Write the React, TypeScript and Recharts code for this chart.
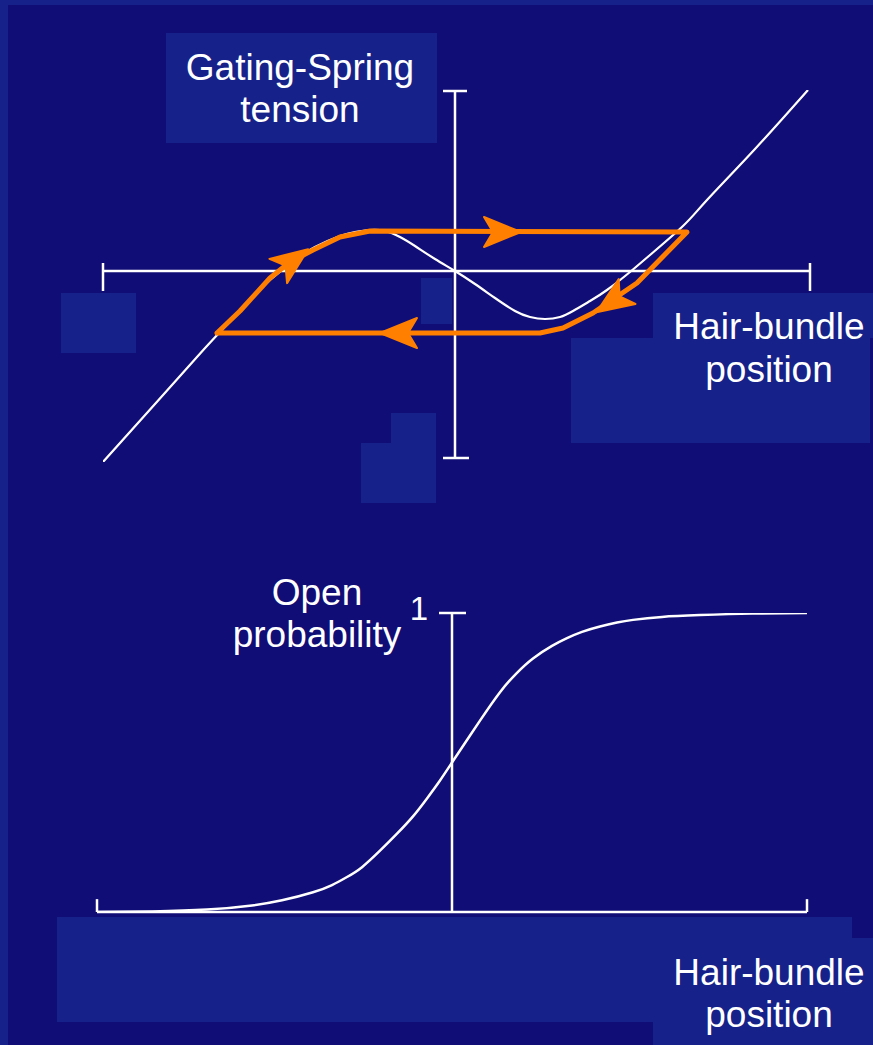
import { ComposedChart, Line, Scatter, XAxis, YAxis, ReferenceLine } from 'recharts'

// top panel: hair-bundle position (px from centre) vs gating-spring tension
const springCurve = [
  { x: -352, y: -191 },
  { x: -300, y: -133 },
  { x: -258, y: -86 },
  { x: -235, y: -61 },
  { x: -210, y: -34 },
  { x: -185, y: -9 },
  { x: -160, y: 11 },
  { x: -140, y: 24 },
  { x: -115, y: 35 },
  { x: -100, y: 39 },
  { x: -85, y: 41 },
  { x: -70, y: 40 },
  { x: -55, y: 34 },
  { x: -40, y: 25 },
  { x: -20, y: 12 },
  { x: 0, y: 0 },
  { x: 20, y: -13 },
  { x: 40, y: -27 },
  { x: 60, y: -40 },
  { x: 75, y: -46 },
  { x: 90, y: -48 },
  { x: 105, y: -46 },
  { x: 118, y: -40 },
  { x: 135, y: -30 },
  { x: 152, y: -19 },
  { x: 175, y: -1 },
  { x: 195, y: 16 },
  { x: 228, y: 45 },
  { x: 252, y: 71 },
  { x: 300, y: 122 },
  { x: 353, y: 181 },
]

const hysteresisLoop = [
  { x: -238, y: -62 },
  { x: -215, y: -40 },
  { x: -185, y: -7 },
  { x: -165, y: 9 },
  { x: -142, y: 21 },
  { x: -115, y: 34 },
  { x: -85, y: 40 },
  { x: 232, y: 39 },
  { x: 182, y: -12 },
  { x: 138, y: -42 },
  { x: 108, y: -57 },
  { x: 85, y: -62 },
  { x: -238, y: -62 },
]

// arrow heads on the loop, angle = screen direction in degrees
const loopArrows = [
  { x: 46, y: 39, angle: 0 },
  { x: -55, y: -62, angle: 180 },
  { x: -163, y: 10, angle: -36 },
  { x: 158, y: -30, angle: 146 },
]

// bottom panel: hair-bundle position vs open probability
const openProbability = [
  { x: -355, y: 0 },
  { x: -300, y: 0.002 },
  { x: -245, y: 0.008 },
  { x: -200, y: 0.022 },
  { x: -170, y: 0.039 },
  { x: -139, y: 0.066 },
  { x: -120, y: 0.09 },
  { x: -105, y: 0.117 },
  { x: -90, y: 0.15 },
  { x: -72, y: 0.205 },
  { x: -55, y: 0.262 },
  { x: -39, y: 0.32 },
  { x: -25, y: 0.38 },
  { x: -12, y: 0.44 },
  { x: 0, y: 0.5 },
  { x: 14, y: 0.57 },
  { x: 28, y: 0.64 },
  { x: 48, y: 0.735 },
  { x: 65, y: 0.8 },
  { x: 81, y: 0.848 },
  { x: 100, y: 0.89 },
  { x: 115, y: 0.916 },
  { x: 130, y: 0.937 },
  { x: 148, y: 0.955 },
  { x: 165, y: 0.968 },
  { x: 181, y: 0.977 },
  { x: 210, y: 0.987 },
  { x: 248, y: 0.993 },
  { x: 300, y: 0.998 },
  { x: 355, y: 1 },
]

const BG = '#110d76'
const PANEL = '#16228a'
const ORANGE = '#ff8000'
const FONT = '"Liberation Sans", Arial, Helvetica, sans-serif'

const panels = [
  [0, 0, 873, 5],
  [0, 0, 8, 1045],
  [166, 33, 271, 110],
  [61, 293, 75, 60],
  [421, 278, 31, 46],
  [391, 413, 45, 90],
  [361, 443, 75, 60],
  [653, 293, 220, 45],
  [571, 338, 299, 105],
  [57, 917, 795, 105],
  [653, 938, 220, 107],
]

function Arrow(props: any) {
  const { cx, cy } = props
  const angle = props.payload?.angle ?? props.angle ?? 0
  if (cx == null || cy == null) return null
  return (
    <path
      d="M20,0 L-17,-15 L-8,0 L-17,15 Z"
      fill={ORANGE}
      stroke={ORANGE}
      strokeWidth={2}
      strokeLinejoin="round"
      transform={`translate(${cx},${cy}) rotate(${angle})`}
    />
  )
}

const axis = { stroke: '#ffffff', strokeWidth: 2.5, ifOverflow: 'visible' as const }

export default function App() {
  return (
    <div style={{ position: 'absolute', left: 0, top: 0, width: 873, height: 1045, background: BG, overflow: 'hidden' }}>
      <svg width={873} height={1045} style={{ position: 'absolute', left: 0, top: 0 }}>
        {panels.map(([x, y, w, h], i) => (
          <rect key={i} x={x} y={y} width={w} height={h} fill={PANEL} />
        ))}
      </svg>

      <div style={{ position: 'absolute', left: 0, top: 0 }}>
        <ComposedChart width={873} height={520} margin={{ top: 90, right: 63, bottom: 58, left: 103 }}>
          <XAxis type="number" dataKey="x" domain={[-352, 355]} allowDataOverflow hide />
          <YAxis type="number" dataKey="y" domain={[-191, 181]} allowDataOverflow hide />
          <ReferenceLine segment={[{ x: -352, y: 0 }, { x: 355, y: 0 }]} {...axis} />
          <ReferenceLine segment={[{ x: -352, y: 8 }, { x: -352, y: -20 }]} {...axis} />
          <ReferenceLine segment={[{ x: 355, y: 8 }, { x: 355, y: -20 }]} {...axis} />
          <ReferenceLine segment={[{ x: 0, y: 180 }, { x: 0, y: -187 }]} {...axis} />
          <ReferenceLine segment={[{ x: -12, y: 180 }, { x: 12, y: 180 }]} {...axis} />
          <ReferenceLine segment={[{ x: -12, y: -187 }, { x: 14, y: -187 }]} {...axis} />
          <Line data={springCurve} dataKey="y" type="natural" stroke="#ffffff" strokeWidth={2.2} dot={false} activeDot={false} isAnimationActive={false} />
          <Line data={hysteresisLoop} dataKey="y" type="linear" stroke={ORANGE} strokeWidth={5} strokeLinejoin="round" strokeLinecap="round" dot={false} activeDot={false} isAnimationActive={false} />
          <Scatter data={loopArrows} dataKey="y" shape={Arrow} isAnimationActive={false} />
        </ComposedChart>
      </div>

      <div style={{ position: 'absolute', left: 0, top: 560 }}>
        <ComposedChart width={873} height={400} margin={{ top: 53, right: 66, bottom: 48, left: 97 }}>
          <XAxis type="number" dataKey="x" domain={[-355, 355]} allowDataOverflow hide />
          <YAxis type="number" dataKey="y" domain={[0, 1]} allowDataOverflow hide />
          <ReferenceLine segment={[{ x: -355, y: 0 }, { x: 355, y: 0 }]} {...axis} />
          <ReferenceLine segment={[{ x: -355, y: 0 }, { x: -355, y: 0.043 }]} {...axis} />
          <ReferenceLine segment={[{ x: 355, y: 0 }, { x: 355, y: 0.043 }]} {...axis} />
          <ReferenceLine segment={[{ x: 0, y: 0 }, { x: 0, y: 1 }]} {...axis} />
          <ReferenceLine segment={[{ x: -13, y: 1 }, { x: 14, y: 1 }]} {...axis} />
          <Line data={openProbability} dataKey="y" type="natural" stroke="#ffffff" strokeWidth={2.5} dot={false} activeDot={false} isAnimationActive={false} />
        </ComposedChart>
      </div>

      <svg width={873} height={1045} style={{ position: 'absolute', left: 0, top: 0, pointerEvents: 'none' }}>
        <g fill="#ffffff" fontFamily={FONT} fontSize={37} textAnchor="middle">
          <text x={300} y={80}>Gating-Spring</text>
          <text x={300} y={122}>tension</text>
          <text x={769} y={339}>Hair-bundle</text>
          <text x={769} y={382}>position</text>
          <text x={317} y={605}>Open</text>
          <text x={317} y={647}>probability</text>
          <text x={419} y={620} fontSize={33}>1</text>
          <text x={769} y={985}>Hair-bundle</text>
          <text x={769} y={1027}>position</text>
        </g>
      </svg>
    </div>
  )
}
